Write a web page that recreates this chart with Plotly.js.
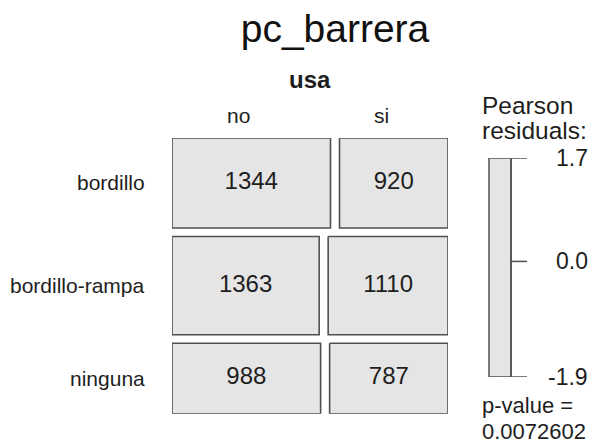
<!DOCTYPE html>
<html>
<head>
<meta charset="utf-8">
<script src="https://cdn.plot.ly/plotly-3.0.1.min.js"></script>
<style>html,body{margin:0;padding:0;background:#fff;}#chart{width:600px;height:445px;}</style>
</head>
<body>
<div id="chart"></div>
<script>
// ---- data ----
const chartTitle = 'pc_barrera';
const colVarName = 'usa';
const rowLabels = ['bordillo', 'bordillo-rampa', 'ninguna'];
const colLabels = ['no', 'si'];
const countsNo = [1344, 1363, 988];
const countsSi = [920, 1110, 787];
const residTickVals = [1.7, 0.0, -1.9];
const residTickText = ['1.7', '0.0', '-1.9'];
const residRange = [-1.9, 1.7];
const pValueText = '0.0072602';

// ---- style / layout constants ----
const W = 600, H = 445;
const FONT = 'Liberation Sans, Arial, Helvetica, sans-serif';
const FILL = '#e5e5e5', EDGE = '#505050', TXT = '#1e1e1e';
const GX = 9 / 267, GY = 8.5 / 258;
const px = v => v / W;
const py = v => (H - v) / H;

const counts = rowLabels.map((r, i) => [countsNo[i], countsSi[i]]);
const total = counts.reduce((s, r) => s + r[0] + r[1], 0);

const traces = [];
const annotations = [];
let yCum = 0;
counts.forEach((row, i) => {
  const rowTot = row[0] + row[1];
  const y0 = yCum + i * GY;
  const y1 = y0 + rowTot / total;
  yCum += rowTot / total;
  let xCum = 0;
  row.forEach((c, j) => {
    const x0 = xCum + j * GX;
    const x1 = x0 + c / rowTot;
    xCum += c / rowTot;
    traces.push({
      type: 'scatter', mode: 'lines', x: [x0, x1, x1, x0, x0], y: [y0, y0, y1, y1, y0],
      fill: 'toself', fillcolor: FILL, line: {color: EDGE, width: 1.6},
      hoverinfo: 'skip', showlegend: false, xaxis: 'x', yaxis: 'y'
    });
    traces.push({
      type: 'scatter', mode: 'text', x: [(x0 + x1) / 2], y: [(y0 + y1) / 2],
      text: [String(c)], textposition: 'middle center',
      textfont: {family: FONT, size: 24, color: TXT},
      hoverinfo: 'skip', showlegend: false, xaxis: 'x', yaxis: 'y'
    });
  });
  annotations.push({
    xref: 'paper', yref: 'y', x: px(147), y: (y0 + y1) / 2, xanchor: 'right', yanchor: 'middle',
    text: rowLabels[i], showarrow: false, font: {family: FONT, size: 21, color: TXT}
  });
});

// column labels (equal spacing, as in vcd)
colLabels.forEach((lab, j) => {
  annotations.push({
    xref: 'x', yref: 'paper', x: j * (0.5 + GX) + 0.25, y: py(116), xanchor: 'center', yanchor: 'middle',
    text: lab, showarrow: false, font: {family: FONT, size: 21, color: TXT}
  });
});
annotations.push({
  xref: 'x', yref: 'paper', x: (1 + GX) / 2, y: py(79), xanchor: 'center', yanchor: 'middle',
  text: '<b>' + colVarName + '</b>', showarrow: false, font: {family: FONT, size: 24, color: TXT}
});

// legend (residual scale)
traces.push({
  type: 'scatter', mode: 'markers', x: [0, 0], y: residRange, marker: {opacity: 0},
  hoverinfo: 'skip', showlegend: false, xaxis: 'x2', yaxis: 'y2'
});
const shapes = [
  {type: 'rect', xref: 'paper', yref: 'y2', x0: px(489), x1: px(511), y0: residRange[0], y1: residRange[1],
   fillcolor: FILL, line: {color: EDGE, width: 1.5}},
  {type: 'line', xref: 'paper', yref: 'y2', x0: px(511), x1: px(511), y0: residRange[0], y1: residRange[1],
   line: {color: EDGE, width: 1.5}}
];
residTickVals.forEach((v, k) => {
  shapes.push({type: 'line', xref: 'paper', yref: 'y2', x0: px(511), x1: px(527), y0: v, y1: v,
    line: {color: EDGE, width: 1.5}});
  annotations.push({xref: 'paper', yref: 'y2', x: px(590), y: v, xanchor: 'right', yanchor: 'middle',
    text: residTickText[k], showarrow: false, font: {family: FONT, size: 23, color: TXT}});
});
[['Pearson', 105, 24.5], ['residuals:', 130, 24.5], ['p-value =', 405, 22], [pValueText, 431, 22]].forEach(([t, yy, fs]) => {
  annotations.push({xref: 'paper', yref: 'paper', x: px(480), y: py(yy), xanchor: 'left', yanchor: 'middle',
    text: t, showarrow: false, font: {family: FONT, size: fs, color: TXT}});
});

const layout = {
  width: W, height: H,
  margin: {l: 0, r: 0, t: 0, b: 0},
  paper_bgcolor: '#ffffff', plot_bgcolor: 'rgba(0,0,0,0)',
  title: {text: chartTitle, x: px(335), xanchor: 'center', y: py(28), yanchor: 'middle',
    font: {family: FONT, size: 39, color: '#111111'}},
  xaxis: {domain: [px(172), px(448)], range: [0, 1 + GX], visible: false, fixedrange: true},
  yaxis: {domain: [py(413.7), py(138)], range: [1 + 2 * GY, 0], visible: false, fixedrange: true},
  xaxis2: {domain: [px(490), px(527)], range: [-1, 1], visible: false, anchor: 'y2'},
  yaxis2: {domain: [py(377), py(158)], range: residRange, visible: false, anchor: 'x2'},
  showlegend: false,
  annotations: annotations,
  shapes: shapes
};

Plotly.newPlot('chart', traces, layout, {staticPlot: true, displayModeBar: false});
</script>
</body>
</html>
